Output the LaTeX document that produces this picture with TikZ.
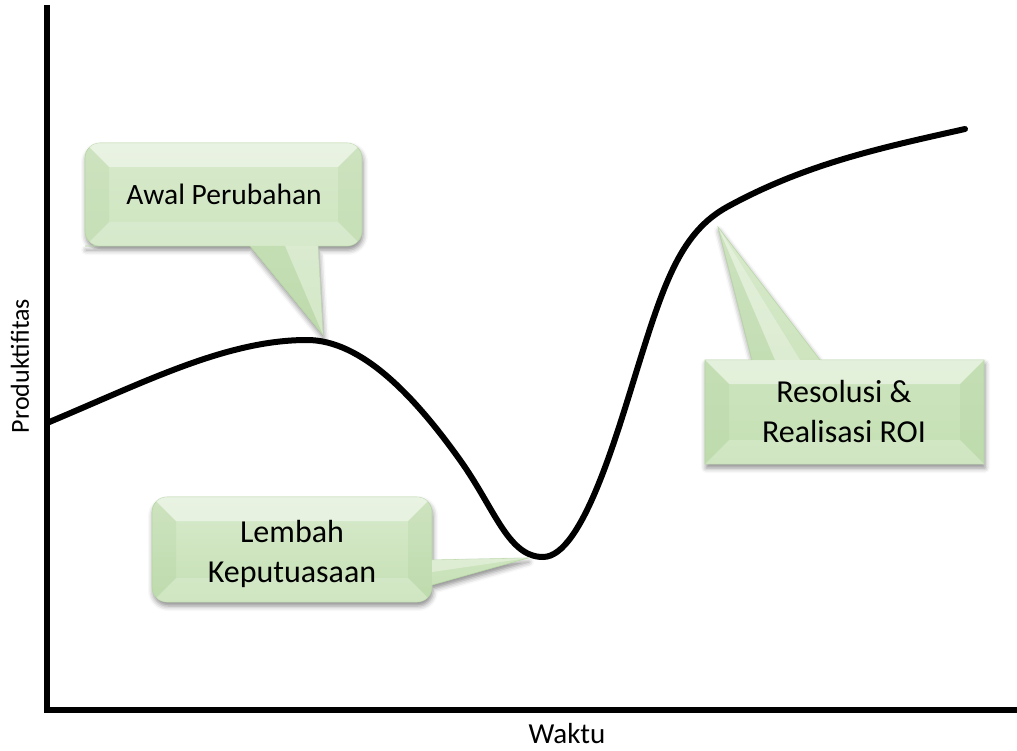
\documentclass[tikz,border=0pt]{standalone}
\usepackage{fontspec}
\setmainfont{Carlito}
\usetikzlibrary{shadows.blur}

\definecolor{calgreen}{RGB}{197,224,180}
\definecolor{calgreenlight}{RGB}{216,234,204}
\definecolor{calgreendark}{RGB}{160,198,140}
\definecolor{caledge}{RGB}{186,216,168}

\tikzset{
  axisline/.style={line width=6pt, line join=miter},
  curveline/.style={line width=6pt, line cap=round},
  callout/.style={top color=calgreenlight, bottom color=calgreen, draw=caledge, line width=0.6pt,
    blur shadow={shadow xshift=1pt, shadow yshift=-4pt, shadow blur radius=5pt, shadow opacity=45}},
  calltext/.style={align=center, text=black},
  axislabel/.style={text=black},
}

% bevel bands of a box: x0 y0 x1 y1 depth
\newcommand\calloutbevel[5]{%
  \fill[white,opacity=0.45] (#1,#2) -- (#3,#2) -- ({#3-#5},{#2+#5}) -- ({#1+#5},{#2+#5}) -- cycle;
  \fill[calgreendark,opacity=0.18] (#1,#2) -- ({#1+#5},{#2+#5}) -- ({#1+#5},{#4-#5}) -- (#1,#4) -- cycle;
  \fill[calgreendark,opacity=0.18] (#3,#2) -- ({#3-#5},{#2+#5}) -- ({#3-#5},{#4-#5}) -- (#3,#4) -- cycle;
  \fill[white,opacity=0.18] (#1,#4) -- ({#1+#5},{#4-#5}) -- ({#3-#5},{#4-#5}) -- (#3,#4) -- cycle;
}

\begin{document}
\begin{tikzpicture}[x=1pt, y=-1pt]
\useasboundingbox (0,0) rectangle (1017,751);

% axes
\draw[axisline] (47,5) -- (47,710) -- (1017,710);
\node[axislabel, anchor=base, font=\fontsize{29}{34}\selectfont] (xlab) at (567,743) {Waktu};
\node[axislabel, rotate=90, font=\fontsize{26}{31}\selectfont] (ylab) at (20,366) {Produktifitas};

% productivity curve: rise, valley, recovery
\coordinate (p0) at (47,423);
\coordinate (p1) at (307,340);
\coordinate (p2) at (460,460);
\coordinate (p3) at (543,557);
\coordinate (p4) at (640,360);
\coordinate (p5) at (727,207);
\coordinate (p6) at (965,129);
\draw[curveline] (p0) .. controls (147,381) and (227,340) .. (p1)
  .. controls (362,340) and (415,397) .. (p2)
  .. controls (495,509) and (508,557) .. (p3)
  .. controls (583,557) and (618,430) .. (p4)
  .. controls (665,280) and (682,232) .. (p5)
  .. controls (807,163) and (885,147) .. (p6);

% callout: Awal Perubahan
\path[callout] (318,246) -- (348,246) [rounded corners=15pt] -- (362,246) -- (362,143)
  -- (85,143) -- (85,246) -- (100,246) [sharp corners] -- (250,246) -- (323,335) -- cycle;
\begin{scope}
  \clip[rounded corners=15pt] (85,143) rectangle (362,246);
  \calloutbevel{85}{143}{362}{246}{24}
\end{scope}
\fill[white,opacity=0.25] (285,246) -- (318,246) -- (323,335) -- cycle;
\fill[calgreendark,opacity=0.2] (250,246) -- (285,246) -- (323,335) -- cycle;
\node[calltext, font=\fontsize{29.5}{40}\selectfont] (c1) at (224,194) {Awal Perubahan};

% callout: Lembah Keputuasaan
\path[callout] (432,585) -- (432,588) [rounded corners=15pt] -- (432,602) -- (152,602)
  -- (152,497) -- (432,497) -- (432,540) [sharp corners] -- (432,560) -- (528,558) -- cycle;
\begin{scope}
  \clip[rounded corners=15pt] (152,497) rectangle (432,602);
  \calloutbevel{152}{497}{432}{602}{24}
\end{scope}
\fill[white,opacity=0.35] (432,560) -- (528,558) -- (432,572) -- cycle;
\node[calltext, font=\fontsize{32}{40}\selectfont] (c2) at (292,554) {Lembah\\Keputuasaan};

% callout: Resolusi & Realisasi ROI
\path[callout] (705,360) -- (752,360) -- (718,227) -- (820,360) -- (984,360) -- (984,464)
  -- (705,464) -- cycle;
\begin{scope}
  \clip (705,360) rectangle (984,464);
  \calloutbevel{705}{360}{984}{464}{24}
\end{scope}
\fill[calgreendark,opacity=0.2] (752,360) -- (718,227) -- (775,360) -- cycle;
\fill[white,opacity=0.3] (775,360) -- (718,227) -- (800,360) -- cycle;
\node[calltext, font=\fontsize{32}{40}\selectfont] (c3) at (844,412) {Resolusi \&\\Realisasi ROI};
\end{tikzpicture}
\end{document}
